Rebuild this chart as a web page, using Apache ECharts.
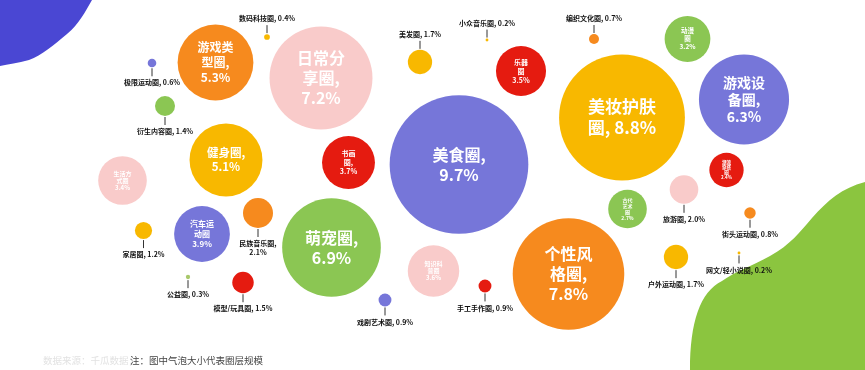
<!DOCTYPE html>
<html>
<head>
<meta charset="utf-8">
<script src="https://cdn.jsdelivr.net/npm/echarts@6/dist/echarts.min.js"></script>
<style>
html,body{margin:0;padding:0;background:#fff;}
#chart{width:865px;height:370px;}
</style>
</head>
<body>
<div id="chart"></div>
<script>
// ---- data ----
const names = ['美食圈','美妆护肤圈','个性风格圈','日常分享圈','萌宠圈','游戏设备圈','游戏类型圈','健身圈','汽车运动圈','书画圈','知识科普圈','乐器圈','生活方式圈','动漫圈','古代艺术圈','潮流穿搭圈','民族音乐圈','旅游圈','美发圈','户外运动圈','模型/玩具圈','衍生内容圈','家居圈','手工手作圈','戏剧艺术圈','街头运动圈','编织文化圈','极限运动圈','数码科技圈','公益圈','小众音乐圈','网文/轻小说圈'];
const shares = [9.7,8.8,7.8,7.2,6.9,6.3,5.3,5.1,3.9,3.7,3.6,3.5,3.4,3.2,2.7,2.4,2.1,2.0,1.7,1.7,1.5,1.4,1.2,0.9,0.9,0.8,0.7,0.6,0.4,0.3,0.2,0.2];
// text shown inside the larger bubbles (empty = label outside with leader line)
const innerText = ['美食圈,\n9.7%','美妆护肤\n圈, 8.8%','个性风\n格圈,\n7.8%','日常分\n享圈,\n7.2%','萌宠圈,\n6.9%','游戏设\n备圈,\n6.3%','游戏类\n型圈,\n5.3%','健身圈,\n5.1%','汽车运\n动圈\n3.9%','书画\n圈,\n3.7%','知识科\n普圈\n3.6%','乐器\n圈\n3.5%','生活方\n式圈\n3.4%','动漫\n圈\n3.2%','古代\n艺术\n圈\n2.7%','潮流\n穿搭\n圈\n2.4%','','','','','','','','','','','','','','','',''];
const outerText = ['','','','','','','','','','','','','','','','','民族音乐圈,\n2.1%','旅游圈, 2.0%','美发圈, 1.7%','户外运动圈, 1.7%','模型/玩具圈, 1.5%','衍生内容圈, 1.4%','家居圈, 1.2%','手工手作圈, 0.9%','戏剧艺术圈, 0.9%','街头运动圈, 0.8%','编织文化圈, 0.7%','极限运动圈, 0.6%','数码科技圈, 0.4%','公益圈, 0.3%','小众音乐圈, 0.2%','网文/轻小说圈, 0.2%'];
const noteText = '注：图中气泡大小代表圈层规模';
const sourceText = '数据来源：千瓜数据；';

// ---- layout (bubble placement in the picture) ----
const layoutX = [459,622,568.5,321,331.5,744,215.5,226,202,348.5,433.5,521,122.5,687.5,627.5,726.5,258,684,420,676,243,165,143.5,485,385,750,594,152,267,188,487,739];
const layoutY = [164.5,117.5,274,78,247.5,99.5,62.5,160,234,162.5,271,71,180.5,39,209,170,213,189.5,62,257,282.5,106,230.5,286,300,213,39,63,37,277,40,253];
const labelSide = ['in','in','in','in','in','in','in','in','in','in','in','in','in','in','in','in','below','below','above','below','below','below','below','below','below','below','above','below','above','below','above','below'];

// ---- styles ----
const C = {purple:'#7676d9', yellow:'#f8b800', orange:'#f68a1e', pink:'#f9cbca', green:'#8bc653', red:'#e51b10', olive:'#a8c86a'};
const colorKey = ['purple','yellow','orange','pink','green','purple','orange','yellow','purple','red','pink','red','pink','green','green','red','orange','pink','yellow','yellow','red','green','yellow','red','purple','orange','orange','purple','yellow','olive','yellow','yellow'];
const innerFont = [16,17,16,16,16,14,12,11.5,8,7,6,7,6,6.5,5,4.5];
const diamPerPct = 14.3;
const FONT = '"Noto Sans CJK SC","Microsoft YaHei",sans-serif';
const blobPaths = [
  {d:'M0,0 L92,0 C85,12 79,24 67,34 C54,45 42,55 29,60 C18,63 8,64 0,66 Z', fill:'#4a47d3'},
  {d:'M690,370 C690,322 700,292 722,281 C736,271 752,266 770,256 C790,245 800,232 812,218 C828,200 842,188 865,182 L865,370 Z', fill:'#8bc53f'}
];

const chart = echarts.init(document.getElementById('chart'), null, {renderer:'canvas'});

function renderBubble(params, api) {
  const i = params.dataIndex;
  const c = api.coord([api.value(0), api.value(1)]);
  const r = api.value(2) * diamPerPct / 2;
  const children = [{type:'circle', shape:{cx:c[0], cy:c[1], r:r}, style:{fill:C[colorKey[i]]}}];
  const side = labelSide[i];
  if (side === 'in') {
    const fs = innerFont[i];
    children.push({type:'text', style:{text:innerText[i], x:c[0], y:c[1], align:'center', verticalAlign:'middle',
      fill:'#fff', fontSize:fs, fontWeight:'bold', fontFamily:FONT, lineHeight:Math.round(fs*1.22)}});
  } else {
    const dir = side === 'below' ? 1 : -1;
    const y0 = c[1] + dir * (r + 1);
    const y1 = y0 + dir * 8;
    children.push({type:'line', shape:{x1:c[0], y1:y0, x2:c[0], y2:y1}, style:{stroke:'#333', lineWidth:1}});
    children.push({type:'text', style:{text:outerText[i], x:c[0], y:y1 + dir * 2, align:'center',
      verticalAlign: side === 'below' ? 'top' : 'bottom', fill:'#111', fontSize:7, fontWeight:'bold', fontFamily:FONT, lineHeight:9}});
  }
  return {type:'group', children:children};
}

function renderBlob(params, api) {
  const b = blobPaths[params.dataIndex];
  return {type:'path', shape:{pathData:b.d}, style:{fill:b.fill}};
}

chart.setOption({
  animation:false,
  backgroundColor:'#fff',
  grid:{left:0, right:0, top:0, bottom:0},
  xAxis:{type:'value', min:0, max:865, show:false},
  yAxis:{type:'value', min:0, max:370, inverse:true, show:false},
  graphic:[
    {type:'text', left:43, top:356, z:10, style:{text:sourceText, fill:'#e2e2e2', fontSize:9.5, fontFamily:FONT}},
    {type:'text', left:130, top:356, z:10, style:{text:noteText, fill:'#444', fontSize:9.5, fontFamily:FONT}}
  ],
  series:[
    {type:'custom', renderItem:renderBlob, z:1, silent:true, data:[[0,0],[0,0]]},
    {type:'custom', renderItem:renderBubble, z:5,
     data: names.map((n,i)=>({name:n, value:[layoutX[i], layoutY[i], shares[i]]}))}
  ]
});
</script>
</body>
</html>
